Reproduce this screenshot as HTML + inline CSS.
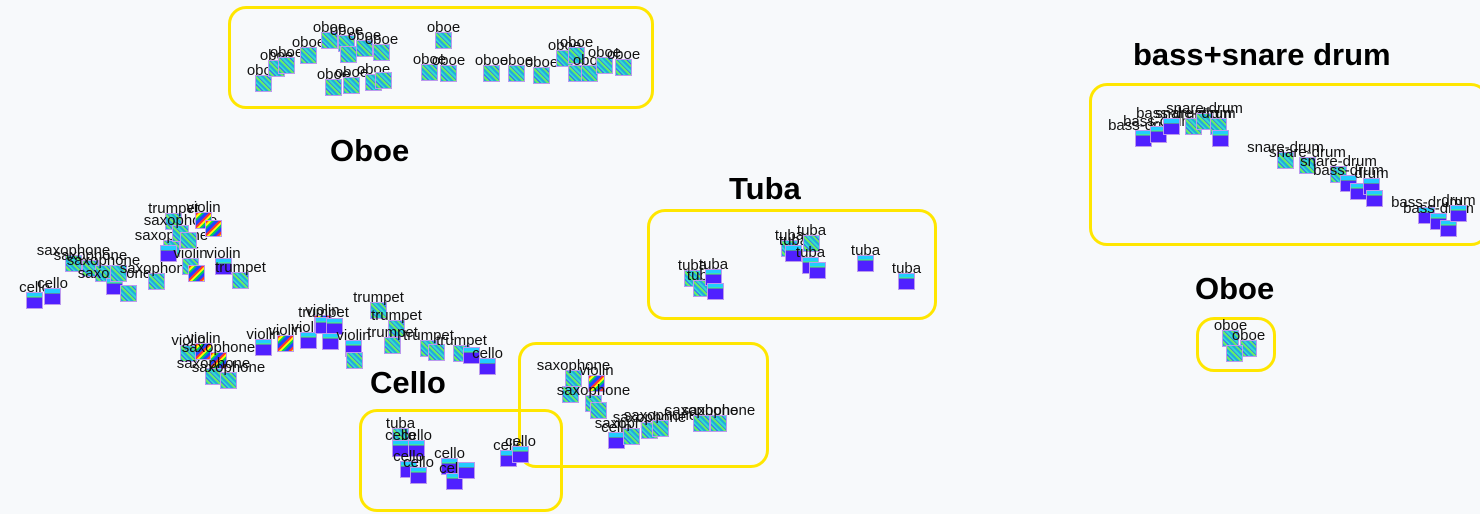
<!DOCTYPE html>
<html><head><meta charset="utf-8"><style>
body{margin:0;width:1480px;height:514px;background:#f7f9fb;position:relative;overflow:hidden;font-family:"Liberation Sans",sans-serif}
.box{position:absolute;border:3px solid #ffe600;border-radius:18px;box-sizing:border-box}
.t{position:absolute;font-weight:bold;font-size:31px;color:#000;white-space:nowrap}
.p{position:absolute;width:17px;height:17px;box-sizing:border-box;border:1px solid #b9e}
.g{background:repeating-linear-gradient(45deg,#2ad 0 2px,#6e6 2px 4px,#36f 4px 5px,#3dc 5px 7px)}
.b{background:linear-gradient(#2cf 0 25%,#5f5 25% 30%,#5020ff 30%)}
.v{background:repeating-linear-gradient(135deg,#f33 0 2px,#ff0 2px 4px,#0c6 4px 6px,#24f 6px 9px)}
.p b{position:absolute;bottom:85%;left:50%;transform:translateX(-50%);font-weight:normal;font-size:15px;color:#111;white-space:nowrap;line-height:15px}
</style></head><body>
<div class="box" style="left:228px;top:6px;width:426px;height:103px"></div>
<div class="box" style="left:1089px;top:83px;width:400px;height:163px"></div>
<div class="box" style="left:647px;top:209px;width:290px;height:111px"></div>
<div class="box" style="left:1196px;top:317px;width:80px;height:55px"></div>
<div class="box" style="left:359px;top:409px;width:204px;height:103px"></div>
<div class="box" style="left:518px;top:342px;width:251px;height:126px"></div>

<div class="t" style="left:330px;top:133px">Oboe</div>
<div class="t" style="left:729px;top:171px">Tuba</div>
<div class="t" style="left:1133px;top:37px">bass+snare drum</div>
<div class="t" style="left:1195px;top:271px">Oboe</div>
<div class="t" style="left:370px;top:365px">Cello</div>

<div class="p g" style="left:255px;top:75px"><b>oboe</b></div>
<div class="p g" style="left:268px;top:60px"><b>oboe</b></div>
<div class="p g" style="left:278px;top:57px"><b>oboe</b></div>
<div class="p g" style="left:300px;top:47px"><b>oboe</b></div>
<div class="p g" style="left:321px;top:32px"><b>oboe</b></div>
<div class="p g" style="left:338px;top:35px"><b>oboe</b></div>
<div class="p g" style="left:340px;top:46px"></div>
<div class="p g" style="left:356px;top:40px"><b>oboe</b></div>
<div class="p g" style="left:373px;top:44px"><b>oboe</b></div>
<div class="p g" style="left:325px;top:79px"><b>oboe</b></div>
<div class="p g" style="left:343px;top:77px"><b>oboe</b></div>
<div class="p g" style="left:365px;top:74px"><b>oboe</b></div>
<div class="p g" style="left:375px;top:72px"></div>
<div class="p g" style="left:435px;top:32px"><b>oboe</b></div>
<div class="p g" style="left:421px;top:64px"><b>oboe</b></div>
<div class="p g" style="left:440px;top:65px"><b>oboe</b></div>
<div class="p g" style="left:483px;top:65px"><b>oboe</b></div>
<div class="p g" style="left:508px;top:65px"><b>oboe</b></div>
<div class="p g" style="left:533px;top:67px"><b>oboe</b></div>
<div class="p g" style="left:556px;top:50px"><b>oboe</b></div>
<div class="p g" style="left:568px;top:47px"><b>oboe</b></div>
<div class="p g" style="left:568px;top:65px"></div>
<div class="p g" style="left:581px;top:65px"><b>oboe</b></div>
<div class="p g" style="left:596px;top:57px"><b>oboe</b></div>
<div class="p g" style="left:615px;top:59px"><b>oboe</b></div>

<div class="p b" style="left:1135px;top:130px"><b>bass-drum</b></div>
<div class="p b" style="left:1150px;top:126px"><b>bass-drum</b></div>
<div class="p b" style="left:1163px;top:118px"><b>bass-drum</b></div>
<div class="p g" style="left:1185px;top:118px"><b>snare-drum</b></div>
<div class="p g" style="left:1196px;top:113px"><b>snare-drum</b></div>
<div class="p g" style="left:1210px;top:118px"><b>drum</b></div>
<div class="p b" style="left:1212px;top:130px"></div>
<div class="p g" style="left:1277px;top:152px"><b>snare-drum</b></div>
<div class="p g" style="left:1299px;top:157px"><b>snare-drum</b></div>
<div class="p g" style="left:1330px;top:166px"><b>snare-drum</b></div>
<div class="p b" style="left:1340px;top:175px"><b>bass-drum</b></div>
<div class="p b" style="left:1350px;top:183px"></div>
<div class="p b" style="left:1363px;top:178px"><b>drum</b></div>
<div class="p b" style="left:1366px;top:190px"></div>
<div class="p b" style="left:1418px;top:207px"><b>bass-drum</b></div>
<div class="p b" style="left:1430px;top:213px"><b>bass-drum</b></div>
<div class="p b" style="left:1440px;top:220px"></div>
<div class="p b" style="left:1450px;top:205px"><b>drum</b></div>

<div class="p g" style="left:684px;top:270px"><b>tuba</b></div>
<div class="p g" style="left:693px;top:280px"><b>tuba</b></div>
<div class="p b" style="left:705px;top:269px"><b>tuba</b></div>
<div class="p b" style="left:707px;top:283px"></div>
<div class="p g" style="left:781px;top:240px"><b>tuba</b></div>
<div class="p b" style="left:785px;top:245px"><b>tuba</b></div>
<div class="p g" style="left:803px;top:235px"><b>tuba</b></div>
<div class="p b" style="left:802px;top:257px"><b>tuba</b></div>
<div class="p b" style="left:809px;top:262px"></div>
<div class="p b" style="left:857px;top:255px"><b>tuba</b></div>
<div class="p b" style="left:898px;top:273px"><b>tuba</b></div>

<div class="p g" style="left:1222px;top:330px"><b>oboe</b></div>
<div class="p g" style="left:1240px;top:340px"><b>oboe</b></div>
<div class="p g" style="left:1226px;top:345px"></div>

<div class="p g" style="left:392px;top:428px"><b>tuba</b></div>
<div class="p b" style="left:392px;top:440px"><b>cello</b></div>
<div class="p b" style="left:408px;top:440px"><b>cello</b></div>
<div class="p b" style="left:400px;top:461px"><b>cello</b></div>
<div class="p b" style="left:410px;top:467px"><b>cello</b></div>
<div class="p b" style="left:441px;top:458px"><b>cello</b></div>
<div class="p b" style="left:446px;top:473px"><b>cello</b></div>
<div class="p b" style="left:458px;top:462px"></div>
<div class="p b" style="left:500px;top:450px"><b>cello</b></div>
<div class="p b" style="left:512px;top:446px"><b>cello</b></div>

<div class="p g" style="left:565px;top:370px"><b>saxophone</b></div>
<div class="p v" style="left:588px;top:375px"><b>violin</b></div>
<div class="p g" style="left:562px;top:386px"></div>
<div class="p g" style="left:585px;top:395px"><b>saxophone</b></div>
<div class="p g" style="left:590px;top:402px"></div>
<div class="p b" style="left:608px;top:432px"><b>cello</b></div>
<div class="p g" style="left:623px;top:428px"><b>saxophone</b></div>
<div class="p g" style="left:641px;top:422px"><b>saxophone</b></div>
<div class="p g" style="left:652px;top:420px"><b>saxophone</b></div>
<div class="p g" style="left:693px;top:415px"><b>saxophone</b></div>
<div class="p g" style="left:710px;top:415px"><b>saxophone</b></div>

<div class="p b" style="left:26px;top:292px"><b>cello</b></div>
<div class="p b" style="left:44px;top:288px"><b>cello</b></div>
<div class="p g" style="left:65px;top:255px"><b>saxophone</b></div>
<div class="p g" style="left:82px;top:260px"><b>saxophone</b></div>
<div class="p g" style="left:95px;top:265px"><b>saxophone</b></div>
<div class="p b" style="left:106px;top:278px"><b>saxophone</b></div>
<div class="p g" style="left:120px;top:285px"></div>
<div class="p g" style="left:110px;top:265px"></div>
<div class="p g" style="left:148px;top:273px"><b>saxophone</b></div>
<div class="p g" style="left:163px;top:240px"><b>saxophone</b></div>
<div class="p b" style="left:160px;top:245px"></div>
<div class="p g" style="left:165px;top:213px"><b>trumpet</b></div>
<div class="p g" style="left:172px;top:225px"><b>saxophone</b></div>
<div class="p v" style="left:195px;top:212px"><b>violin</b></div>
<div class="p v" style="left:205px;top:220px"></div>
<div class="p g" style="left:182px;top:258px"><b>violin</b></div>
<div class="p v" style="left:188px;top:265px"></div>
<div class="p b" style="left:215px;top:258px"><b>violin</b></div>
<div class="p g" style="left:232px;top:272px"><b>trumpet</b></div>
<div class="p g" style="left:180px;top:232px"></div>

<div class="p g" style="left:180px;top:345px"><b>violin</b></div>
<div class="p v" style="left:195px;top:343px"><b>violin</b></div>
<div class="p v" style="left:210px;top:352px"><b>saxophone</b></div>
<div class="p g" style="left:205px;top:368px"><b>saxophone</b></div>
<div class="p g" style="left:220px;top:372px"><b>saxophone</b></div>
<div class="p b" style="left:255px;top:339px"><b>violin</b></div>
<div class="p v" style="left:277px;top:335px"><b>violin</b></div>
<div class="p b" style="left:300px;top:332px"><b>violin</b></div>
<div class="p v" style="left:314px;top:315px"><b>violin</b></div>
<div class="p b" style="left:315px;top:317px"><b>trumpet</b></div>
<div class="p b" style="left:326px;top:318px"></div>
<div class="p b" style="left:322px;top:333px"></div>
<div class="p b" style="left:345px;top:340px"><b>violin</b></div>
<div class="p g" style="left:346px;top:352px"></div>
<div class="p g" style="left:370px;top:302px"><b>trumpet</b></div>
<div class="p g" style="left:388px;top:320px"><b>trumpet</b></div>
<div class="p g" style="left:384px;top:337px"><b>trumpet</b></div>
<div class="p g" style="left:420px;top:340px"><b>trumpet</b></div>
<div class="p g" style="left:428px;top:344px"></div>
<div class="p g" style="left:453px;top:345px"><b>trumpet</b></div>
<div class="p b" style="left:463px;top:347px"></div>
<div class="p b" style="left:479px;top:358px"><b>cello</b></div>
</body></html>
